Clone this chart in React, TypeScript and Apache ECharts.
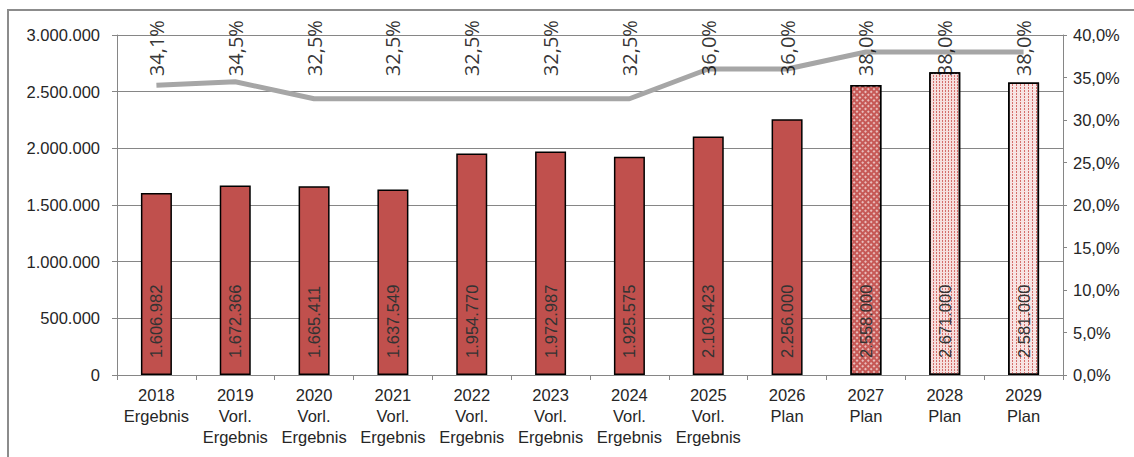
import React, { useEffect, useRef } from "react";
import * as echarts from "echarts";

// Years and their status lines shown under each bar
const years = ["2018", "2019", "2020", "2021", "2022", "2023", "2024", "2025", "2026", "2027", "2028", "2029"];
const statuses = [
  "Ergebnis",
  "Vorl.\nErgebnis",
  "Vorl.\nErgebnis",
  "Vorl.\nErgebnis",
  "Vorl.\nErgebnis",
  "Vorl.\nErgebnis",
  "Vorl.\nErgebnis",
  "Vorl.\nErgebnis",
  "Plan",
  "Plan",
  "Plan",
  "Plan",
];

// Amounts per year (left axis)
const amounts = [1606982, 1672366, 1665411, 1637549, 1954770, 1972987, 1925575, 2103423, 2256000, 2558000, 2671000, 2581000];

// Rate per year in percent (right axis)
const rates = [34.1, 34.5, 32.5, 32.5, 32.5, 32.5, 32.5, 36.0, 36.0, 38.0, 38.0, 38.0];

const FONT = "'Liberation Sans', Arial, sans-serif";
const RATE_FONT = "'Open Sans', 'Liberation Sans', sans-serif";
const RED = "#C0504D";
// Rate labels sit in a row near the top of the plot (fraction of plot height)
const RATE_LABEL_ROW = 0.879;

const deNumber = (v: number) => String(Math.round(v)).replace(/\B(?=(\d{3})+(?!\d))/g, ".");
const dePercent = (v: number) => v.toFixed(1).replace(".", ",") + "%";

// Hatched fills for the later plan years
const fills: Record<string, any> = {
  "2027": {
    color: "#C65956",
    decal: {
      symbol: "rect",
      symbolSize: 1,
      color: "rgba(255,255,255,0.6)",
      dashArrayX: [2, 2],
      dashArrayY: [2, 2],
      rotation: Math.PI / 4,
    },
  },
  "2028": {
    color: "#F6DEDD",
    decal: {
      symbol: "rect",
      symbolSize: 1,
      color: "#D46E6B",
      dashArrayX: [1, 2],
      dashArrayY: [2, 1],
    },
  },
  "2029": {
    color: "#F8E4E3",
    decal: {
      symbol: "rect",
      symbolSize: 1,
      color: "#D46E6B",
      dashArrayX: [1, 3],
      dashArrayY: [2, 1],
    },
  },
};

export default function App() {
  const ref = useRef<HTMLDivElement>(null);

  useEffect(() => {
    if (!ref.current) return;
    const chart = echarts.init(ref.current, undefined, { renderer: "svg" });

    const categories = years.map((y, i) => `${y}\n${statuses[i]}`);
    const barData = amounts.map((v, i) => {
      const f = fills[years[i]];
      return f ? { value: v, itemStyle: { color: f.color, decal: f.decal } } : { value: v };
    });
    const rateLabelData = rates.map((_, i) => [i, RATE_LABEL_ROW]);

    chart.setOption({
      animation: false,
      backgroundColor: "#ffffff",
      textStyle: { fontFamily: FONT },
      grid: { left: 117, right: 71, top: 35, bottom: 82 },
      graphic: [
        {
          type: "rect",
          shape: { x: 8, y: 10, width: 1200, height: 500 },
          style: { fill: "none", stroke: "#8C8C8C", lineWidth: 2 },
          silent: true,
          z: -1,
        },
      ],
      xAxis: {
        type: "category",
        data: categories,
        axisLine: { lineStyle: { color: "#868686", width: 1 } },
        axisTick: { show: true, length: 5, lineStyle: { color: "#868686" } },
        axisLabel: {
          interval: 0,
          color: "#262626",
          fontSize: 16.5,
          fontFamily: FONT,
          lineHeight: 21,
          margin: 9,
        },
      },
      yAxis: [
        {
          type: "value",
          min: 0,
          max: 3000000,
          interval: 500000,
          axisLine: { show: true, lineStyle: { color: "#868686" } },
          axisTick: { show: true, length: 5, lineStyle: { color: "#868686" } },
          splitLine: { lineStyle: { color: "#868686", width: 1 } },
          axisLabel: {
            formatter: (v: number) => deNumber(v),
            color: "#262626",
            fontSize: 16.5,
            fontFamily: FONT,
            margin: 17,
          },
        },
        {
          type: "value",
          min: 0,
          max: 40,
          interval: 5,
          position: "right",
          axisLine: { show: true, lineStyle: { color: "#868686" } },
          axisTick: { show: true, length: 4, lineStyle: { color: "#868686" } },
          splitLine: { show: false },
          axisLabel: {
            formatter: (v: number) => dePercent(v),
            color: "#262626",
            fontSize: 16.5,
            fontFamily: FONT,
            margin: 10,
          },
        },
        {
          // hidden helper axis for the row of rate labels
          type: "value",
          min: 0,
          max: 1,
          show: false,
          splitLine: { show: false },
        },
      ],
      series: [
        {
          type: "bar",
          name: "Betrag",
          data: barData,
          barWidth: 31,
          itemStyle: { color: RED, borderColor: "#000000", borderWidth: 1.5 },
          label: {
            show: true,
            position: "insideBottom",
            rotate: 90,
            align: "left",
            verticalAlign: "middle",
            distance: 17,
            formatter: (p: any) => deNumber(p.value),
            color: "#333333",
            fontSize: 16.5,
            fontFamily: FONT,
          },
          z: 2,
        },
        {
          type: "line",
          name: "Quote",
          yAxisIndex: 1,
          data: rates,
          showSymbol: false,
          symbol: "none",
          lineStyle: { color: "#A6A6A6", width: 5 },
          z: 3,
        },
        {
          type: "scatter",
          name: "Quote-Beschriftung",
          yAxisIndex: 2,
          data: rateLabelData,
          symbolSize: 0,
          silent: true,
          label: {
            show: true,
            position: "top",
            rotate: 90,
            align: "left",
            verticalAlign: "middle",
            distance: 0,
            formatter: (p: any) => dePercent(rates[p.dataIndex]),
            color: "#000000",
            fontSize: 20,
            fontFamily: RATE_FONT,
          },
          z: 4,
        },
      ],
    });

    return () => chart.dispose();
  }, []);

  return (
    <div
      ref={ref}
      style={{ position: "fixed", left: 0, top: 0, width: 1134, height: 457 }}
    />
  );
}
